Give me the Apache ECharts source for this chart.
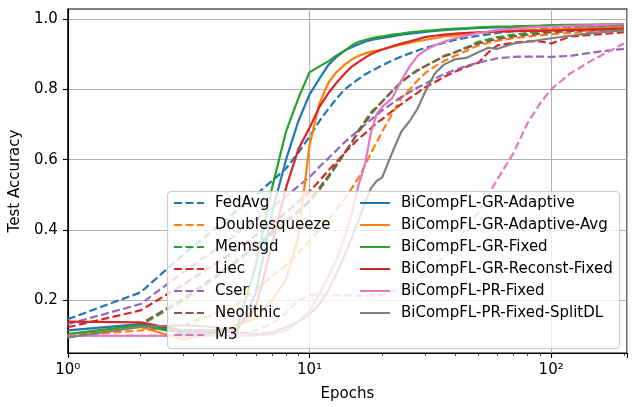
<!DOCTYPE html>
<html>
<head>
<meta charset="utf-8">
<script src="https://cdn.jsdelivr.net/npm/echarts@6/dist/echarts.min.js"></script>
<style>
  html, body { margin: 0; padding: 0; background: #fff; }
  #chart { width: 632px; height: 407px; }
</style>
</head>
<body>
<div id="chart"></div>
<script>
// ── data ────────────────────────────────────────────────────
const epochs = [1, 2, 3, 4, 5, 6, 7, 8, 9, 10, 11, 12, 13, 14, 15, 16, 17, 18, 19, 20,
  22, 24, 26, 28, 30, 33, 36, 40, 45, 50, 55, 60, 70, 80, 90, 100, 120, 150, 200]

const fedAvg = [0.147, 0.223, 0.33, 0.40, 0.455, 0.50, 0.54, 0.575, 0.62, 0.665, 0.71, 0.745, 0.775, 0.80, 0.815, 0.83, 0.842, 0.852, 0.86, 0.868,
  0.882, 0.893, 0.902, 0.91, 0.917, 0.925, 0.932, 0.94, 0.947, 0.952, 0.956, 0.96, 0.965, 0.968, 0.97, 0.972, 0.974, 0.976, 0.978]
const doublesqueeze = [0.10, 0.115, 0.13, 0.16, 0.19, 0.23, 0.27, 0.30, 0.335, 0.37, 0.40, 0.43, 0.46, 0.49, 0.52, 0.55, 0.585, 0.62, 0.65, 0.68,
  0.73, 0.775, 0.80, 0.825, 0.845, 0.865, 0.88, 0.895, 0.91, 0.925, 0.932, 0.938, 0.945, 0.95, 0.953, 0.956, 0.96, 0.964, 0.968]
const memsgd = [0.097, 0.13, 0.20, 0.26, 0.31, 0.35, 0.39, 0.42, 0.45, 0.48, 0.515, 0.55, 0.585, 0.62, 0.65, 0.685, 0.71, 0.735, 0.75, 0.765,
  0.795, 0.82, 0.84, 0.855, 0.865, 0.88, 0.895, 0.905, 0.92, 0.935, 0.942, 0.948, 0.955, 0.96, 0.963, 0.966, 0.97, 0.974, 0.978]
const liec = [0.124, 0.172, 0.245, 0.30, 0.345, 0.385, 0.42, 0.45, 0.48, 0.51, 0.54, 0.57, 0.595, 0.62, 0.64, 0.66, 0.675, 0.69, 0.705, 0.715,
  0.738, 0.758, 0.775, 0.79, 0.805, 0.82, 0.835, 0.85, 0.865, 0.875, 0.905, 0.925, 0.932, 0.936, 0.936, 0.93, 0.95, 0.955, 0.962]
const cser = [0.133, 0.19, 0.28, 0.34, 0.39, 0.43, 0.465, 0.495, 0.525, 0.55, 0.58, 0.605, 0.628, 0.65, 0.668, 0.684, 0.70, 0.714, 0.727, 0.74,
  0.76, 0.778, 0.792, 0.805, 0.815, 0.83, 0.843, 0.855, 0.867, 0.876, 0.882, 0.888, 0.892, 0.893, 0.893, 0.892, 0.895, 0.905, 0.915]
const neolithic = [0.095, 0.133, 0.205, 0.265, 0.315, 0.355, 0.395, 0.425, 0.455, 0.485, 0.52, 0.555, 0.59, 0.62, 0.65, 0.68, 0.705, 0.73, 0.748, 0.765,
  0.795, 0.82, 0.838, 0.853, 0.865, 0.88, 0.893, 0.905, 0.918, 0.93, 0.937, 0.943, 0.95, 0.955, 0.958, 0.962, 0.965, 0.968, 0.972]
const m3 = [0.10, 0.10, 0.10, 0.102, 0.105, 0.115, 0.135, 0.165, 0.20, 0.215, 0.218, 0.215, 0.214, 0.215, 0.214, 0.213, 0.213, 0.214, 0.215, 0.216,
  0.225, 0.238, 0.25, 0.262, 0.275, 0.30, 0.325, 0.36, 0.41, 0.45, 0.50, 0.545, 0.62, 0.705, 0.76, 0.80, 0.845, 0.885, 0.93]
const grAdaptive = [0.115, 0.133, 0.11, 0.11, 0.112, 0.22, 0.45, 0.60, 0.71, 0.785, 0.83, 0.87, 0.893, 0.91, 0.92, 0.928, 0.935, 0.94, 0.943, 0.946,
  0.95, 0.955, 0.958, 0.96, 0.963, 0.966, 0.968, 0.97, 0.972, 0.974, 0.975, 0.976, 0.977, 0.978, 0.979, 0.98, 0.98, 0.981, 0.982]
const grAdaptiveAvg = [0.105, 0.125, 0.09, 0.105, 0.13, 0.15, 0.20, 0.26, 0.38, 0.64, 0.76, 0.82, 0.85, 0.87, 0.885, 0.895, 0.902, 0.907, 0.91, 0.913,
  0.92, 0.927, 0.932, 0.937, 0.94, 0.945, 0.95, 0.953, 0.957, 0.96, 0.962, 0.964, 0.966, 0.968, 0.969, 0.97, 0.972, 0.974, 0.976]
const grFixed = [0.105, 0.13, 0.105, 0.105, 0.12, 0.30, 0.52, 0.68, 0.775, 0.848, 0.865, 0.88, 0.897, 0.91, 0.925, 0.935, 0.94, 0.945, 0.948, 0.95,
  0.955, 0.958, 0.962, 0.964, 0.966, 0.968, 0.97, 0.972, 0.974, 0.976, 0.977, 0.978, 0.979, 0.98, 0.981, 0.982, 0.983, 0.984, 0.985]
const grReconstFixed = [0.14, 0.138, 0.115, 0.115, 0.12, 0.18, 0.36, 0.52, 0.63, 0.69, 0.75, 0.79, 0.82, 0.845, 0.865, 0.878, 0.89, 0.90, 0.907, 0.913,
  0.922, 0.93, 0.936, 0.942, 0.948, 0.952, 0.955, 0.958, 0.96, 0.962, 0.963, 0.964, 0.965, 0.966, 0.966, 0.967, 0.968, 0.97, 0.972]
const prFixed = [0.10, 0.10, 0.10, 0.10, 0.10, 0.10, 0.105, 0.115, 0.14, 0.17, 0.22, 0.27, 0.32, 0.38, 0.45, 0.53, 0.59, 0.68, 0.73, 0.75,
  0.775, 0.825, 0.865, 0.895, 0.91, 0.925, 0.935, 0.945, 0.953, 0.96, 0.964, 0.968, 0.972, 0.975, 0.977, 0.978, 0.98, 0.982, 0.985]
const prFixedSplitDL = [0.095, 0.125, 0.13, 0.125, 0.11, 0.105, 0.11, 0.125, 0.14, 0.16, 0.19, 0.23, 0.28, 0.33, 0.38, 0.43, 0.48, 0.52, 0.54, 0.55,
  0.62, 0.68, 0.71, 0.745, 0.79, 0.845, 0.87, 0.885, 0.89, 0.905, 0.918, 0.915, 0.93, 0.935, 0.94, 0.945, 0.952, 0.96, 0.968]

const yTicks = [0.2, 0.4, 0.6, 0.8, 1.0]
const xMinorTicks = [2, 3, 4, 5, 6, 7, 8, 9, 20, 30, 40, 50, 60, 70, 80, 90, 200]
const xTickLabels = { 1: '10⁰', 10: '10¹', 100: '10²' }

// name, values, colour, dashed
const seriesDefs = [
  ['FedAvg', fedAvg, '#1f77b4', true],
  ['Doublesqueeze', doublesqueeze, '#ff7f0e', true],
  ['Memsgd', memsgd, '#2ca02c', true],
  ['Liec', liec, '#d62728', true],
  ['Cser', cser, '#9467bd', true],
  ['Neolithic', neolithic, '#8c564b', true],
  ['M3', m3, '#e377c2', true],
  ['BiCompFL-GR-Adaptive', grAdaptive, '#1f77b4', false],
  ['BiCompFL-GR-Adaptive-Avg', grAdaptiveAvg, '#ff7f0e', false],
  ['BiCompFL-GR-Fixed', grFixed, '#2ca02c', false],
  ['BiCompFL-GR-Reconst-Fixed', grReconstFixed, '#d62728', false],
  ['BiCompFL-PR-Fixed', prFixed, '#e377c2', false],
  ['BiCompFL-PR-Fixed-SplitDL', prFixedSplitDL, '#7f7f7f', false],
]

// ── chart ───────────────────────────────────────────────────
const FONT = 'DejaVu Sans'
const FS = 15
const chart = echarts.init(document.getElementById('chart'), null, { renderer: 'canvas' })

const series = seriesDefs.map(([name, vals, color, dashed]) => ({
  name,
  type: 'line',
  data: epochs.map((e, i) => [e, vals[i]]),
  symbol: 'none',
  color,
  lineStyle: { color, width: 2.2, type: dashed ? [8, 3.5] : 'solid' },
  emphasis: { disabled: true },
  silent: true,
  animation: false,
}))

const legendCommon = {
  orient: 'vertical',
  top: 195.5,
  padding: 0,
  itemWidth: 30,
  itemHeight: 15,
  itemGap: 7,
  z: 20,
  selectedMode: false,
  itemStyle: { opacity: 0 },
  textStyle: { fontFamily: FONT, fontSize: FS, color: '#000', lineHeight: 15, padding: [0, 0, 0, 6] },
}

chart.setOption({
  backgroundColor: '#fff',
  animation: false,
  textStyle: { fontFamily: FONT },
  grid: { left: 67, right: 5, top: 9, bottom: 51, show: true, borderColor: '#000', borderWidth: 1.1, containLabel: false },
  graphic: [{
    type: 'rect', left: 167, top: 191, z: 15,
    shape: { width: 452, height: 157, r: 4 },
    style: { fill: 'rgba(255,255,255,0.8)', stroke: '#cccccc', lineWidth: 1.1 },
  }],
  legend: [
    { ...legendCommon, left: 173, data: seriesDefs.slice(0, 7).map(d => d[0]) },
    { ...legendCommon, left: 359, data: seriesDefs.slice(7).map(d => d[0]) },
  ],
  xAxis: [{
    type: 'log', logBase: 10, min: 1, max: 206,
    name: 'Epochs', nameLocation: 'middle', nameGap: 34,
    nameTextStyle: { fontFamily: FONT, fontSize: FS, color: '#000' },
    axisLine: { lineStyle: { color: '#000', width: 1.1 } },
    axisTick: { length: 4.9, lineStyle: { color: '#000', width: 1.1 } },
    axisLabel: { fontFamily: FONT, fontSize: FS, color: '#000', margin: 10, formatter: v => xTickLabels[v] || '' },
    splitLine: { show: true, lineStyle: { color: '#b0b0b0', width: 1.1 } },
  }, {
    type: 'log', logBase: 10, min: 1, max: 206, position: 'bottom',
    axisLine: { show: false },
    axisLabel: { show: false },
    splitLine: { show: false },
    axisTick: { show: true, length: 2.8, customValues: xMinorTicks, lineStyle: { color: '#000', width: 0.8 } },
  }],
  yAxis: {
    type: 'value', min: 0.051, max: 1.028,
    name: 'Test Accuracy', nameLocation: 'middle', nameGap: 37,
    nameTextStyle: { fontFamily: FONT, fontSize: FS, color: '#000' },
    axisLine: { show: true, lineStyle: { color: '#000', width: 1.1 } },
    axisTick: { show: true, length: 4.9, customValues: yTicks, lineStyle: { color: '#000', width: 1.1 } },
    axisLabel: { fontFamily: FONT, fontSize: FS, color: '#000', margin: 10, customValues: yTicks, formatter: v => v.toFixed(1) },
    splitLine: { show: true, lineStyle: { color: '#b0b0b0', width: 1.1 } },
  },
  series,
})
</script>
</body>
</html>
